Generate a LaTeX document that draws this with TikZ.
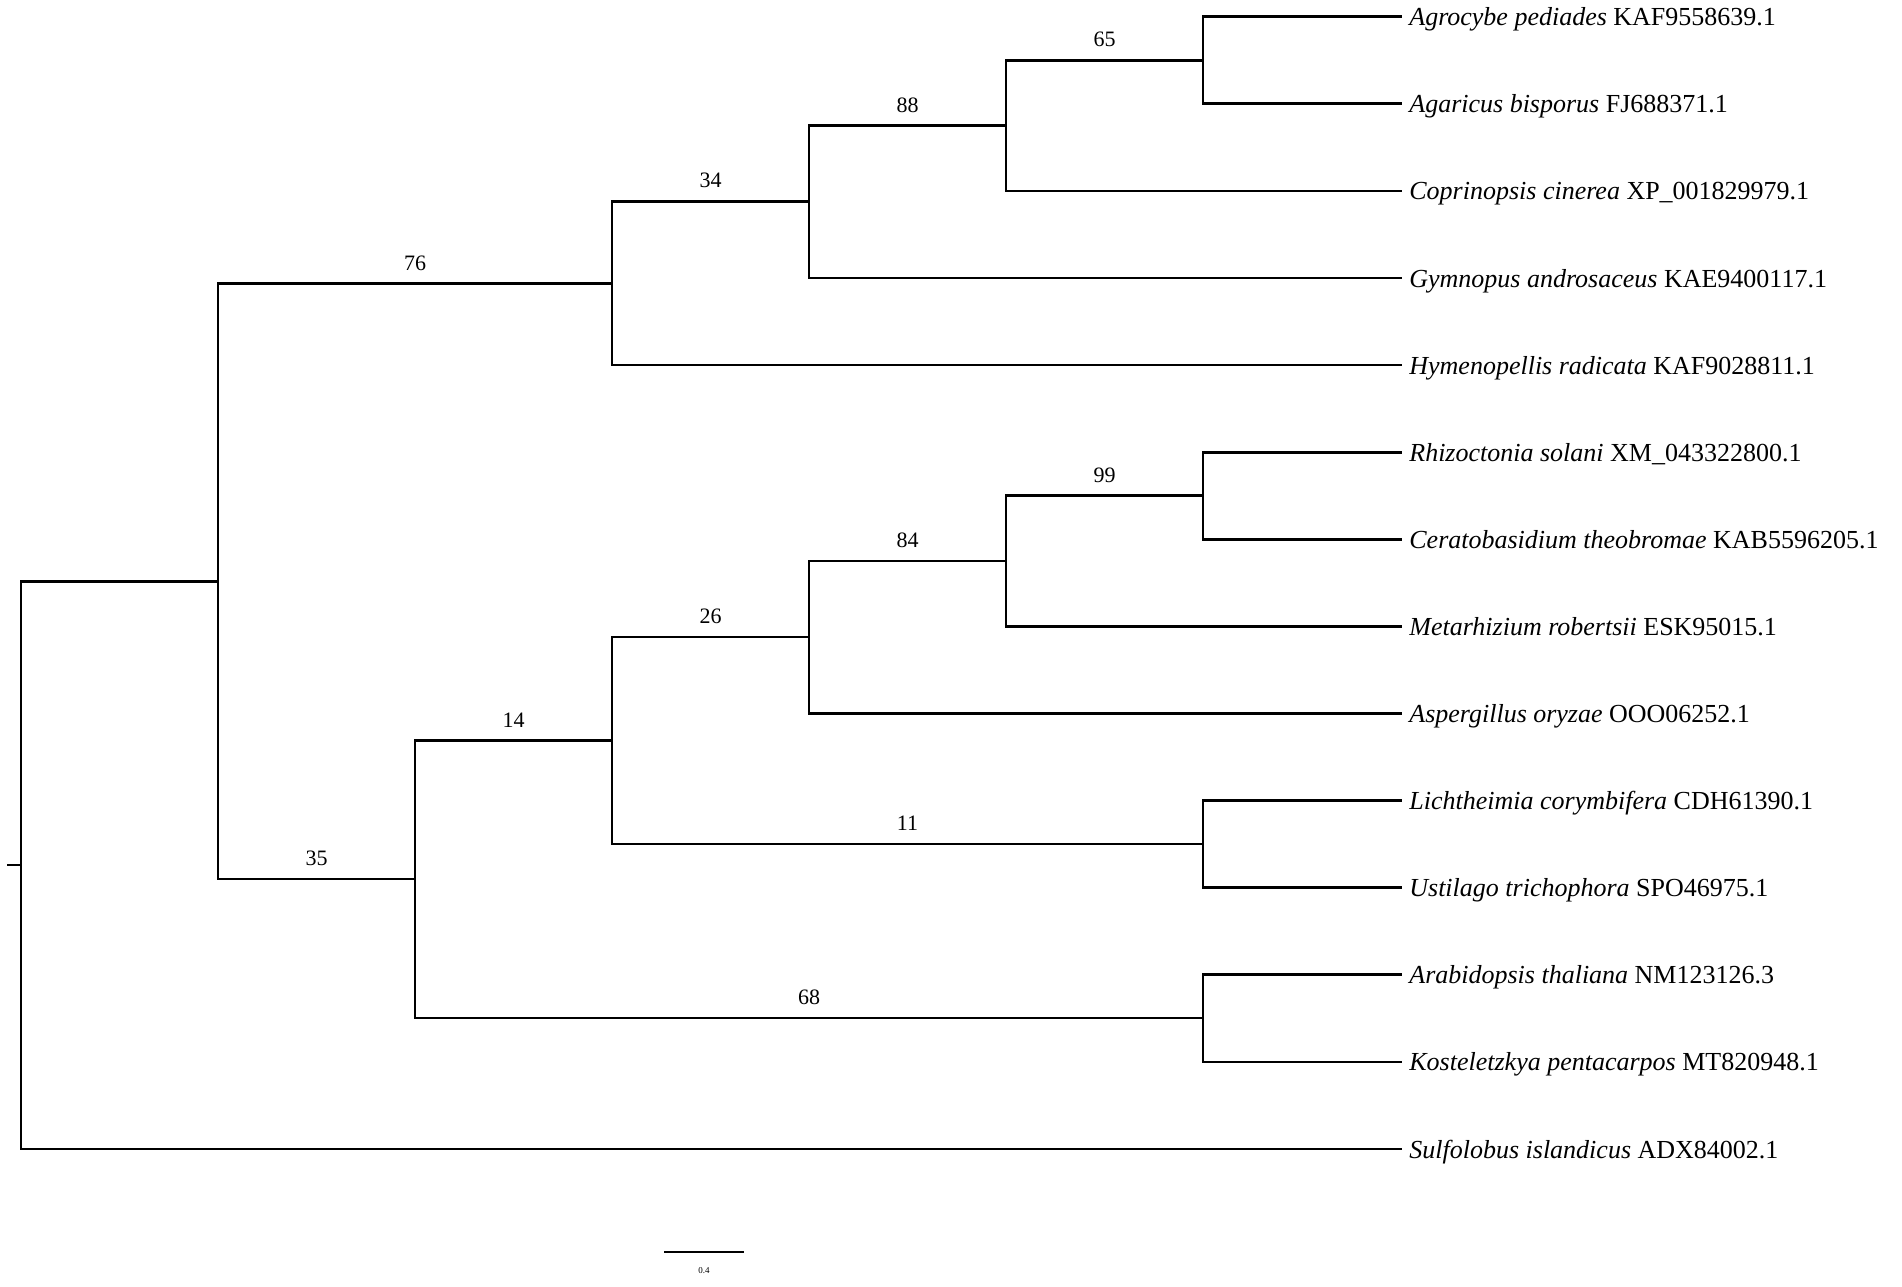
\documentclass[tikz,border=0pt]{standalone}
\usepackage{fontspec}
\setmainfont{Liberation Serif}
\usetikzlibrary{positioning}

\begin{document}
\begin{tikzpicture}[x=1pt, y=-1pt, line width=2.7pt,
    leaf/.style={font=\fontsize{26}{26}\selectfont, inner sep=0pt, text height=18pt, text depth=0pt},
    boot/.style={pos=.75, above, font=\fontsize{22}{22}\selectfont, inner sep=0pt, yshift=12pt}]
\useasboundingbox (0,0) rectangle (1902,1286);

% internal nodes
\coordinate (root) at (21,865);
\coordinate (a) at (218,581.5);
\coordinate (b76) at (612,283.8);
\coordinate (b34) at (809,201.5);
\coordinate (b88) at (1006,125.6);
\coordinate (b65) at (1203,60.3);
\coordinate (b35) at (415,879);
\coordinate (b14) at (612,740.5);
\coordinate (b26) at (809,637);
\coordinate (b84) at (1006,561);
\coordinate (b99) at (1203,495.8);
\coordinate (b11) at (1203,844);
\coordinate (b68) at (1203,1018);

% leaf tips
\foreach \i in {1,...,14}
    \coordinate (t\i) at (1402,{16.7+87.1*(\i-1)});

\node[leaf, right=6pt of t1] (l1) {\textit{Agrocybe pediades} KAF9558639.1};
\node[leaf, right=6pt of t2] (l2) {\textit{Agaricus bisporus} FJ688371.1};
\node[leaf, right=6pt of t3] (l3) {\textit{Coprinopsis cinerea} XP\_001829979.1};
\node[leaf, right=6pt of t4] (l4) {\textit{Gymnopus androsaceus} KAE9400117.1};
\node[leaf, right=6pt of t5] (l5) {\textit{Hymenopellis radicata} KAF9028811.1};
\node[leaf, right=6pt of t6] (l6) {\textit{Rhizoctonia solani} XM\_043322800.1};
\node[leaf, right=6pt of t7] (l7) {\textit{Ceratobasidium theobromae} KAB5596205.1};
\node[leaf, right=6pt of t8] (l8) {\textit{Metarhizium robertsii} ESK95015.1};
\node[leaf, right=6pt of t9] (l9) {\textit{Aspergillus oryzae} OOO06252.1};
\node[leaf, right=6pt of t10] (l10) {\textit{Lichtheimia corymbifera} CDH61390.1};
\node[leaf, right=6pt of t11] (l11) {\textit{Ustilago trichophora} SPO46975.1};
\node[leaf, right=6pt of t12] (l12) {\textit{Arabidopsis thaliana} NM123126.3};
\node[leaf, right=6pt of t13] (l13) {\textit{Kosteletzkya pentacarpos} MT820948.1};
\node[leaf, right=6pt of t14] (l14) {\textit{Sulfolobus islandicus} ADX84002.1};

% branches
\draw (a) -| (root) |- (t14);
\draw (root) -- ++(-14,0);
\draw (a) |- node[boot] {76} (b76);
\draw (a) |- node[boot] {35} (b35);
\draw (b76) |- node[boot] {34} (b34);
\draw (b76) |- (t5);
\draw (b34) |- node[boot] {88} (b88);
\draw (b34) |- (t4);
\draw (b88) |- node[boot] {65} (b65);
\draw (b88) |- (t3);
\draw (b65) |- (t1);
\draw (b65) |- (t2);
\draw (b35) |- node[boot] {14} (b14);
\draw (b35) |- node[boot] {68} (b68);
\draw (b14) |- node[boot] {26} (b26);
\draw (b14) |- node[boot] {11} (b11);
\draw (b26) |- node[boot] {84} (b84);
\draw (b26) |- (t9);
\draw (b84) |- node[boot] {99} (b99);
\draw (b84) |- (t8);
\draw (b99) |- (t6);
\draw (b99) |- (t7);
\draw (b11) |- (t10);
\draw (b11) |- (t11);
\draw (b68) |- (t12);
\draw (b68) |- (t13);

% scale bar
\coordinate (s1) at (664,1252);
\coordinate (s2) at (744,1252);
\draw[line width=2pt] (s1) -- node[below=14pt, inner sep=0pt, font=\fontsize{9}{9}\selectfont] {0.4} (s2);
\end{tikzpicture}
\end{document}
